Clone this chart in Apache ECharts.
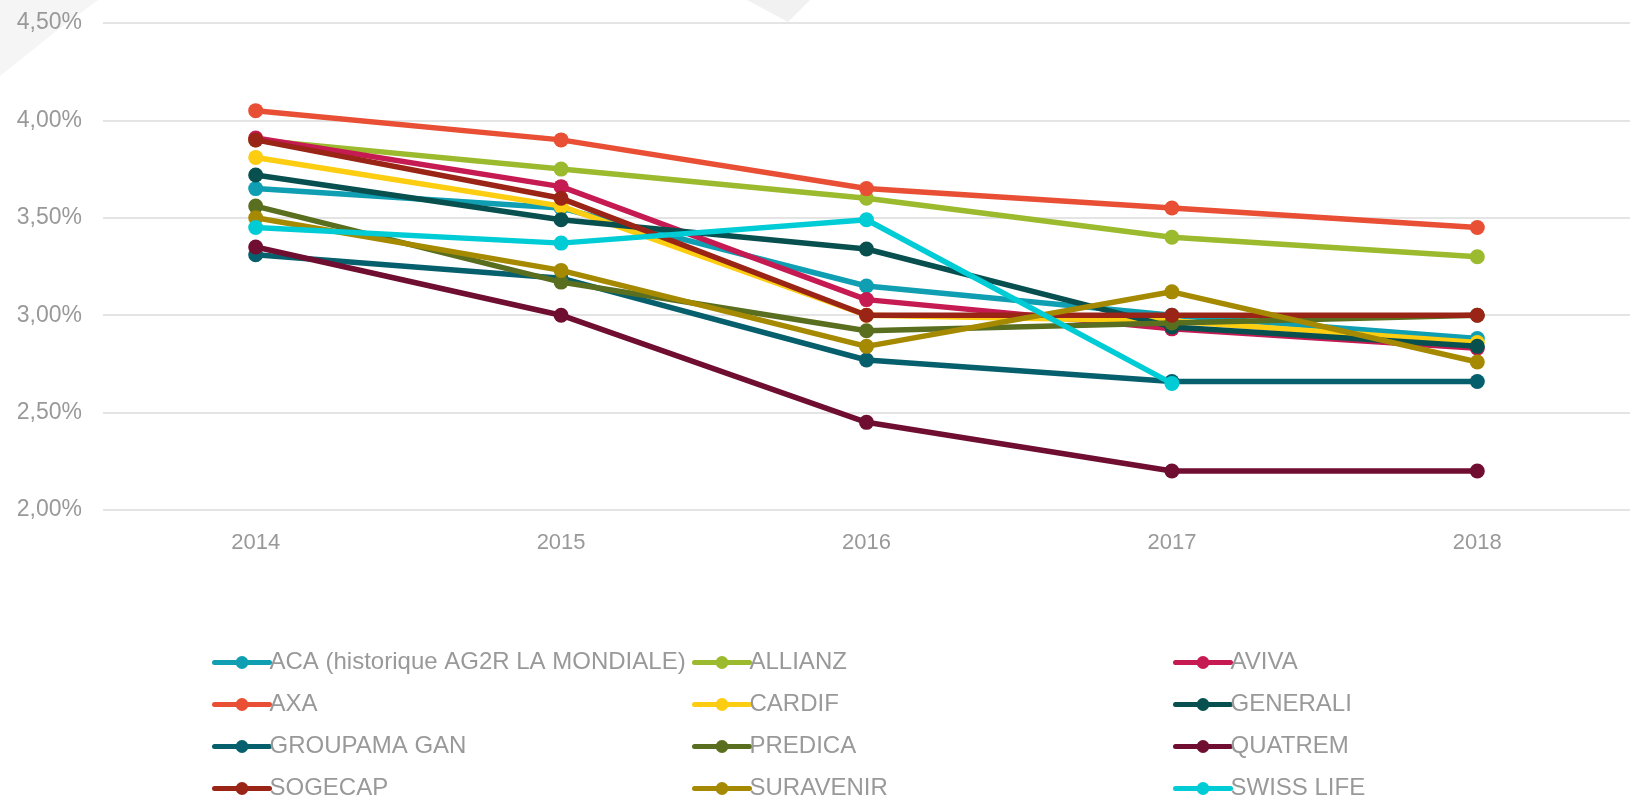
<!DOCTYPE html>
<html lang="fr">
<head>
    <meta charset="UTF-8">
    <title>Taux servis 2014-2018</title>
    <style>
        html, body { margin: 0; padding: 0; background: #fff; }
        #chart { width: 1630px; height: 802px; }
    </style>
</head>
<body>
    <div id="chart"></div>
</body>
<script src="https://cdn.jsdelivr.net/npm/echarts@6/dist/echarts.min.js"></script>
<script type="text/javascript">
    // années
    const years = ['2014', '2015', '2016', '2017', '2018'];

    // taux par assureur (en %)
    const aca = [3.65, 3.55, 3.15, 3.00, 2.88];
    const allianz = [3.90, 3.75, 3.60, 3.40, 3.30];
    const aviva = [3.91, 3.66, 3.08, 2.93, 2.83];
    const axa = [4.05, 3.90, 3.65, 3.55, 3.45];
    const cardif = [3.81, 3.56, 3.00, 2.97, 2.86];
    const generali = [3.72, 3.49, 3.34, 2.94, 2.84];
    const groupama = [3.31, 3.19, 2.77, 2.66, 2.66];
    const predica = [3.56, 3.17, 2.92, 2.96, 3.00];
    const quatrem = [3.35, 3.00, 2.45, 2.20, 2.20];
    const sogecap = [3.90, 3.60, 3.00, 3.00, 3.00];
    const suravenir = [3.50, 3.23, 2.84, 3.12, 2.76];
    const swisslife = [3.45, 3.37, 3.49, 2.65, null];

    const names = ['ACA (historique AG2R LA MONDIALE)', 'ALLIANZ', 'AVIVA', 'AXA', 'CARDIF', 'GENERALI',
        'GROUPAMA GAN', 'PREDICA', 'QUATREM', 'SOGECAP', 'SURAVENIR', 'SWISS LIFE'];
    const values = [aca, allianz, aviva, axa, cardif, generali, groupama, predica, quatrem, sogecap, suravenir, swisslife];
    const colors = ['#0f9eb2', '#9bba2e', '#c51a52', '#e84f34', '#fccd10', '#07504f',
        '#065f6c', '#5a6e1f', '#6f0e30', '#9a2416', '#a58900', '#00ccd6'];

    const font = 'Liberation Sans, Arial, sans-serif';
    const grey = '#999999';

    let series = names.map((n, i) => ({
        name: n,
        type: 'line',
        data: values[i],
        symbol: 'circle',
        symbolSize: 15,
        lineStyle: { width: 5.5, color: colors[i] },
        itemStyle: { color: colors[i] },
        z: 2 + i
    }));

    // légende en 3 colonnes
    const legendCol = (items, left) => ({
        orient: 'vertical',
        left: left,
        top: 645,
        height: 200,
        itemWidth: 55,
        itemHeight: 16,
        itemGap: 17,
        data: items,
        lineStyle: { width: 5, cap: 'round' },
        textStyle: { color: grey, fontSize: 24, fontFamily: font, lineHeight: 25, padding: [0, 0, 0, -5] }
    });

    let option = {
        animation: false,
        backgroundColor: '#fff',
        color: colors,
        graphic: [{
            type: 'polygon',
            z: -10,
            shape: { points: [[0, 0], [98, 0], [60, 28], [0, 76]] },
            style: { fill: '#f5f5f5' }
        }, {
            type: 'polygon',
            z: -10,
            shape: { points: [[747, 0], [810, 0], [788, 22]] },
            style: { fill: '#f1f1f1' }
        }],
        grid: {
            left: 103,
            top: 23,
            width: 1545,
            height: 487
        },
        xAxis: {
            type: 'category',
            data: years,
            boundaryGap: true,
            axisLine: { show: false },
            axisTick: { show: false },
            axisLabel: { color: grey, fontSize: 22, fontFamily: font, margin: 22 }
        },
        yAxis: {
            type: 'value',
            min: 2,
            max: 4.5,
            interval: 0.5,
            axisLine: { show: false },
            axisTick: { show: false },
            axisLabel: {
                color: grey, fontSize: 23, fontFamily: font, margin: 21,
                formatter: v => v.toFixed(2).replace('.', ',') + '%'
            },
            splitLine: { lineStyle: { color: '#e4e4e4', width: 2 } }
        },
        legend: [
            legendCol([names[0], names[3], names[6], names[9]], 207),
            legendCol([names[1], names[4], names[7], names[10]], 687),
            legendCol([names[2], names[5], names[8], names[11]], 1168)
        ],
        series: series
    };

    let chart = echarts.init(document.getElementById('chart'));
    chart.setOption(option);
</script>
</html>
